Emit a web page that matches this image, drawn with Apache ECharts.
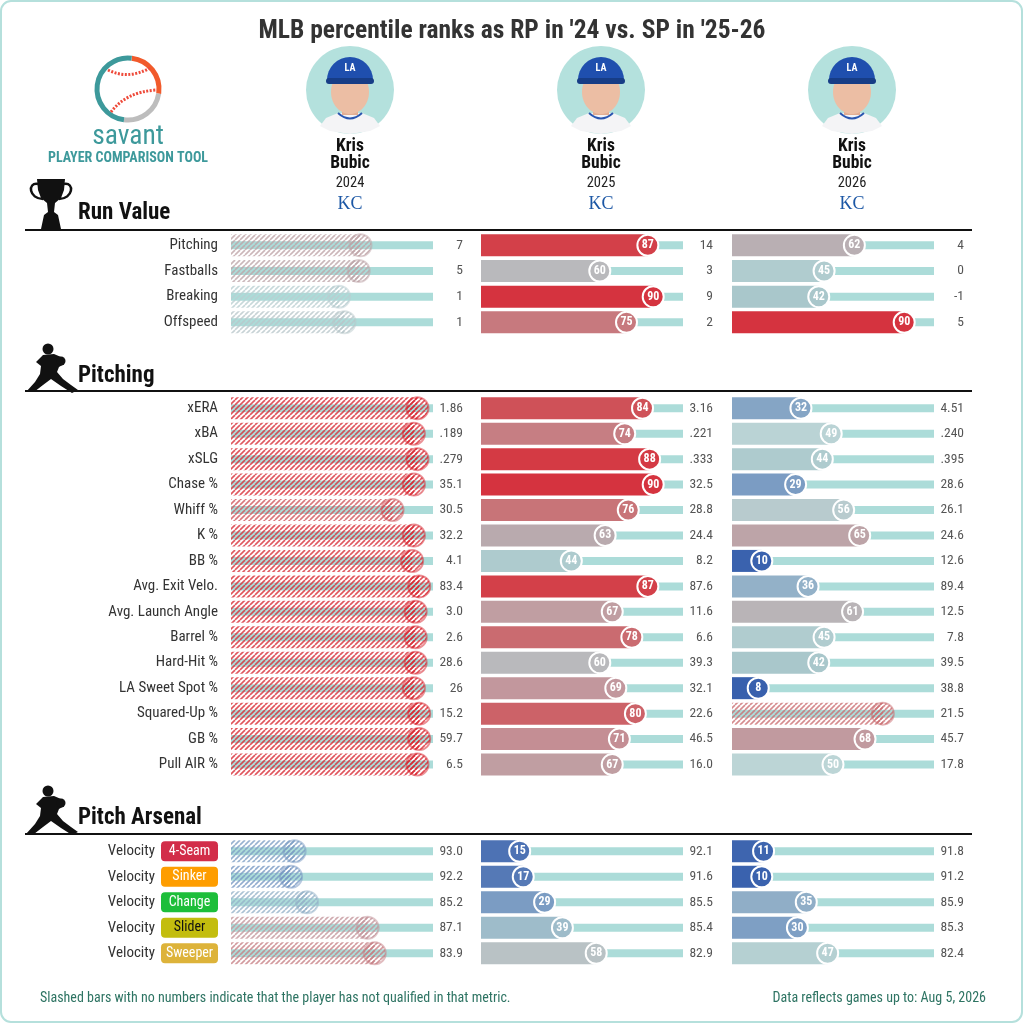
<!DOCTYPE html>
<html>
<head>
<meta charset="utf-8">
<script src="https://cdn.jsdelivr.net/npm/echarts@6/dist/echarts.min.js"></script>
<style>
  html, body { margin: 0; padding: 0; background: #fff; }
  #chart { width: 1024px; height: 1024px; }
</style>
</head>
<body>
<div id="chart"></div>
<script>
// ---- data ----
var seasons = ['2024', '2025', '2026'];
var playerFirst = 'Kris', playerLast = 'Bubic';

var runLabels = ['Pitching', 'Fastballs', 'Breaking', 'Offspeed'];
var runPct24 = [66, 65, 54, 57];
var runQual24 = [0, 0, 0, 0];
var runVal24 = ['7', '5', '1', '1'];
var runPct25 = [87, 60, 90, 75];
var runQual25 = [1, 1, 1, 1];
var runVal25 = ['14', '3', '9', '2'];
var runPct26 = [62, 45, 42, 90];
var runQual26 = [1, 1, 1, 1];
var runVal26 = ['4', '0', '-1', '5'];

var pitchLabels = ['xERA', 'xBA', 'xSLG', 'Chase %', 'Whiff %', 'K %', 'BB %', 'Avg. Exit Velo.',
  'Avg. Launch Angle', 'Barrel %', 'Hard-Hit %', 'LA Sweet Spot %', 'Squared-Up %', 'GB %', 'Pull AIR %'];
var pitchPct24 = [98, 96, 98, 96, 84, 96, 95, 99, 97, 97, 97, 96, 99, 99, 98];
var pitchQual24 = [0, 0, 0, 0, 0, 0, 0, 0, 0, 0, 0, 0, 0, 0, 0];
var pitchVal24 = ['1.86', '.189', '.279', '35.1', '30.5', '32.2', '4.1', '83.4', '3.0', '2.6', '28.6', '26', '15.2', '59.7', '6.5'];
var pitchPct25 = [84, 74, 88, 90, 76, 63, 44, 87, 67, 78, 60, 69, 80, 71, 67];
var pitchQual25 = [1, 1, 1, 1, 1, 1, 1, 1, 1, 1, 1, 1, 1, 1, 1];
var pitchVal25 = ['3.16', '.221', '.333', '32.5', '28.8', '24.4', '8.2', '87.6', '11.6', '6.6', '39.3', '32.1', '22.6', '46.5', '16.0'];
var pitchPct26 = [32, 49, 44, 29, 56, 65, 10, 36, 61, 45, 42, 8, 78, 68, 50];
var pitchQual26 = [1, 1, 1, 1, 1, 1, 1, 1, 1, 1, 1, 1, 0, 1, 1];
var pitchVal26 = ['4.51', '.240', '.395', '28.6', '26.1', '24.6', '12.6', '89.4', '12.5', '7.8', '39.5', '38.8', '21.5', '45.7', '17.8'];

var arsenalPitches = ['4-Seam', 'Sinker', 'Change', 'Slider', 'Sweeper'];
var arsenalColors = ['#d22d49', '#fe9d00', '#1dbe3a', '#c3bd0e', '#ddb33a'];
var arsPct24 = [29, 27, 36, 70, 74];
var arsQual24 = [0, 0, 0, 0, 0];
var arsVal24 = ['93.0', '92.2', '85.2', '87.1', '83.9'];
var arsPct25 = [15, 17, 29, 39, 58];
var arsQual25 = [1, 1, 1, 1, 1];
var arsVal25 = ['92.1', '91.6', '85.5', '85.4', '82.9'];
var arsPct26 = [11, 10, 35, 30, 47];
var arsQual26 = [1, 1, 1, 1, 1];
var arsVal26 = ['91.8', '91.2', '85.9', '85.3', '82.4'];

// ---- style helpers ----
var FONT = "'Roboto Condensed', 'Liberation Sans Narrow', Roboto, sans-serif";
var TRACK = '#acdcd9';
var stops = [[0, '#3257a8'], [10, '#3a62ae'], [17, '#5579b6'], [30, '#7e9fc4'], [36, '#93b1c8'],
  [42, '#a9c7cb'], [50, '#bcd5d6'], [56, '#b8cbce'], [60, '#b9b9bc'], [63, '#b9aaae'],
  [67, '#c09ea2'], [70, '#c3939a'], [76, '#c87478'], [80, '#cc6268'], [84, '#cf5158'],
  [88, '#d43a44'], [90, '#d5333f'], [100, '#d8222b']];

function hex2rgb(h) {
  return [parseInt(h.substr(1, 2), 16), parseInt(h.substr(3, 2), 16), parseInt(h.substr(5, 2), 16)];
}
function pctColor(p, alpha) {
  var a = stops[0], b = stops[stops.length - 1];
  for (var i = 0; i < stops.length - 1; i++) {
    if (p >= stops[i][0] && p <= stops[i + 1][0]) { a = stops[i]; b = stops[i + 1]; break; }
  }
  var t = b[0] === a[0] ? 0 : (p - a[0]) / (b[0] - a[0]);
  var ca = hex2rgb(a[1]), cb = hex2rgb(b[1]);
  var c = ca.map(function (v, k) { return Math.round(v + (cb[k] - v) * t); });
  return 'rgba(' + c[0] + ',' + c[1] + ',' + c[2] + ',' + (alpha == null ? 1 : alpha) + ')';
}
function hatch(color) {
  var cv = document.createElement('canvas');
  cv.width = 5; cv.height = 5;
  var ctx = cv.getContext('2d');
  ctx.strokeStyle = color;
  ctx.lineWidth = 1.6;
  for (var i = -1; i <= 1; i++) {
    ctx.beginPath();
    ctx.moveTo(i * 5, 5);
    ctx.lineTo(i * 5 + 5, 0);
    ctx.stroke();
  }
  return { image: cv, repeat: 'repeat' };
}

// ---- layout ----
var colX = [231, 481, 732], colW = 202;
var sections = [
  { labels: runLabels, top: 232.5, rowH: 25.67,
    cols: [[runPct24, runQual24, runVal24], [runPct25, runQual25, runVal25], [runPct26, runQual26, runVal26]] },
  { labels: pitchLabels, top: 395.5, rowH: 25.45,
    cols: [[pitchPct24, pitchQual24, pitchVal24], [pitchPct25, pitchQual25, pitchVal25], [pitchPct26, pitchQual26, pitchVal26]] },
  { labels: arsenalPitches, top: 838.5, rowH: 25.5, arsenal: true,
    cols: [[arsPct24, arsQual24, arsVal24], [arsPct25, arsQual25, arsVal25], [arsPct26, arsQual26, arsVal26]] }
];

var grids = [], xAxes = [], yAxes = [], series = [];

function makeRender(valTexts) {
  return function (params, api) {
    var cs = params.coordSys;
    var idx = api.value(0), pct = api.value(1), qual = api.value(2);
    var pt = api.coord([pct, idx]);
    var cx = pt[0], cy = pt[1];
    var col = pctColor(pct);
    var kids = [
      { type: 'rect', shape: { x: cs.x, y: cy - 4, width: cs.width, height: 8 }, style: { fill: TRACK } }
    ];
    if (qual) {
      kids.push({ type: 'rect', shape: { x: cs.x, y: cy - 11, width: cx - cs.x, height: 22 }, style: { fill: col } });
      kids.push({ type: 'circle', shape: { cx: cx, cy: cy, r: 10.5 }, style: { fill: col, stroke: '#fff', lineWidth: 2 } });
      kids.push({ type: 'text', x: cx, y: cy, style: { text: String(pct), fill: '#fff', font: 'bold 12px ' + FONT,
        align: 'center', verticalAlign: 'middle' } });
    } else {
      var pat = hatch(pctColor(pct, 0.78));
      kids.push({ type: 'rect', shape: { x: cs.x, y: cy - 11, width: cx - cs.x, height: 22 }, style: { fill: pat } });
      kids.push({ type: 'circle', shape: { cx: cx, cy: cy, r: 11 }, style: { fill: pat, stroke: pctColor(pct, 0.5), lineWidth: 2 } });
    }
    kids.push({ type: 'text', x: cs.x + cs.width + 30, y: cy, style: { text: valTexts[params.dataIndex], fill: '#555',
      font: '13.5px ' + FONT, align: 'right', verticalAlign: 'middle' } });
    return { type: 'group', children: kids };
  };
}

var badgeRich = { v: { fontSize: 15, color: '#333', fontFamily: FONT, padding: [0, 6, 0, 0] } };
arsenalPitches.forEach(function (p, i) {
  badgeRich['b' + i] = { backgroundColor: arsenalColors[i], color: i === 3 ? '#111' : '#fff', fontSize: 14,
    fontFamily: FONT, borderRadius: 4, width: 51, align: 'center', padding: [3, 3, 3, 3], lineHeight: 15 };
});

sections.forEach(function (sec, s) {
  sec.cols.forEach(function (cd, c) {
    var g = grids.length;
    grids.push({ left: colX[c], top: sec.top, width: colW, height: sec.rowH * sec.labels.length });
    xAxes.push({ type: 'value', gridIndex: g, min: -6.74, max: 106.74, show: false });
    yAxes.push({
      type: 'category', gridIndex: g, inverse: true, data: sec.labels,
      axisLine: { show: false }, axisTick: { show: false }, splitLine: { show: false },
      axisLabel: c === 0 ? {
        show: true, margin: 13, color: '#333', fontSize: 15, fontFamily: FONT,
        formatter: sec.arsenal ? function (v, i) { return '{v|Velocity}{b' + i + '|' + v + '}'; } : null,
        rich: sec.arsenal ? badgeRich : undefined
      } : { show: false }
    });
    series.push({
      type: 'custom', xAxisIndex: g, yAxisIndex: g, clip: false,
      renderItem: makeRender(cd[2]),
      encode: { x: 1, y: 0 },
      data: cd[0].map(function (p, i) { return [i, p, cd[1][i]]; })
    });
  });
});

// ---- decorative header graphics ----
function pts(list, dx, dy) {
  var out = [];
  for (var i = 0; i < list.length; i += 2) out.push([list[i] + (dx || 0), list[i + 1] + (dy || 0)]);
  return out;
}
var gfx = [];
gfx.push({ type: 'rect', shape: { x: 1, y: 1, width: 1021, height: 1021, r: 10 }, style: { fill: 'none', stroke: '#b5e0dc', lineWidth: 2 } });
gfx.push({ type: 'text', x: 512, y: 32, style: { text: "MLB percentile ranks as RP in '24 vs. SP in '25-26", fill: '#333',
  font: 'bold 25.5px ' + FONT, align: 'center', verticalAlign: 'middle' } });

// savant logo
var lx = 128, ly = 89, lr = 31;
gfx.push({ type: 'arc', shape: { cx: lx, cy: ly, r: lr, startAngle: -1.45, endAngle: 0.15 }, style: { stroke: '#f15a2b', lineWidth: 5, fill: 'none' } });
gfx.push({ type: 'arc', shape: { cx: lx, cy: ly, r: lr, startAngle: 0.15, endAngle: 1.7 }, style: { stroke: '#bdbdbd', lineWidth: 5, fill: 'none' } });
gfx.push({ type: 'arc', shape: { cx: lx, cy: ly, r: lr, startAngle: 1.7, endAngle: 4.83 }, style: { stroke: '#3d999b', lineWidth: 5, fill: 'none' } });
gfx.push({ type: 'bezierCurve', shape: { x1: 108, y1: 70, cpx1: 128, cpy1: 80, x2: 150, y2: 68 }, style: { stroke: '#ee4a3a', lineWidth: 3, fill: 'none', lineDash: [2, 1.5] } });
gfx.push({ type: 'bezierCurve', shape: { x1: 111, y1: 112, cpx1: 126, cpy1: 92, x2: 156, y2: 90 }, style: { stroke: '#ee4a3a', lineWidth: 3, fill: 'none', lineDash: [2, 1.5] } });
gfx.push({ type: 'text', x: lx, y: 137, style: { text: 'savant', fill: '#3d999b', font: '27.5px ' + FONT, align: 'center', verticalAlign: 'middle' } });
gfx.push({ type: 'text', x: lx, y: 158, style: { text: 'PLAYER COMPARISON TOOL', fill: '#3d999b', font: 'bold 14px ' + FONT, align: 'center', verticalAlign: 'middle' } });

// player heads
var headX = [350, 601, 852];
headX.forEach(function (hx, i) {
  gfx.push({ type: 'circle', shape: { cx: hx, cy: 90, r: 44 }, style: { fill: '#b4e1dd' } });
  gfx.push({ type: 'polygon', shape: { points: pts([-30, 126, -24, 118, -12, 113, 12, 113, 24, 118, 30, 126, 20, 131, 0, 134, -20, 131], hx, 0) }, style: { fill: '#f4f4f6' } });
  gfx.push({ type: 'bezierCurve', shape: { x1: hx - 12, y1: 113, cpx1: hx, cpy1: 124, x2: hx + 12, y2: 113 }, style: { stroke: '#2a56b0', lineWidth: 2, fill: 'none' } });
  gfx.push({ type: 'rect', shape: { x: hx - 8, y: 104, width: 16, height: 11 }, style: { fill: '#e3ae93' } });
  gfx.push({ type: 'ellipse', shape: { cx: hx, cy: 92, rx: 19, ry: 22 }, style: { fill: '#ecbea4' } });
  gfx.push({ type: 'sector', shape: { cx: hx, cy: 80, r0: 0, r: 23, startAngle: Math.PI, endAngle: 2 * Math.PI }, style: { fill: '#1f4fae' } });
  gfx.push({ type: 'rect', shape: { x: hx - 24, y: 78, width: 48, height: 6, r: 3 }, style: { fill: '#173d86' } });
  gfx.push({ type: 'text', x: hx, y: 68, style: { text: 'LA', fill: '#fff', font: 'bold 10px ' + FONT, align: 'center', verticalAlign: 'middle' } });
  gfx.push({ type: 'text', x: hx, y: 147, style: { text: playerFirst, fill: '#111', font: 'bold 17.5px ' + FONT, align: 'center', verticalAlign: 'middle' } });
  gfx.push({ type: 'text', x: hx, y: 164, style: { text: playerLast, fill: '#111', font: 'bold 17.5px ' + FONT, align: 'center', verticalAlign: 'middle' } });
  gfx.push({ type: 'text', x: hx, y: 183, style: { text: seasons[i], fill: '#222', font: '14.5px ' + FONT, align: 'center', verticalAlign: 'middle' } });
  gfx.push({ type: 'text', x: hx, y: 204, style: { text: 'KC', fill: '#1c57a5', font: '18px "Liberation Serif", serif', align: 'center', verticalAlign: 'middle' } });
});

// section headers
var secHead = [['Run Value', 213, 230], ['Pitching', 376, 391], ['Pitch Arsenal', 818, 834]];
secHead.forEach(function (h) {
  gfx.push({ type: 'text', x: 78, y: h[1], style: { text: h[0], fill: '#111', font: 'bold 23px ' + FONT, verticalAlign: 'middle' } });
  gfx.push({ type: 'line', shape: { x1: 25, y1: h[2], x2: 972, y2: h[2] }, style: { stroke: '#111', lineWidth: 2 } });
});

// trophy
gfx.push({ type: 'polygon', shape: { points: pts([37, 179, 65, 179, 64, 190, 61, 198, 55, 203, 54, 212, 58, 215, 61, 229, 41, 229, 44, 215, 48, 212, 47, 203, 41, 198, 38, 190]) }, style: { fill: '#111' } });
gfx.push({ type: 'bezierCurve', shape: { x1: 38, y1: 184, cpx1: 27, cpy1: 182, cpx2: 29, cpy2: 199, x2: 43, y2: 199 }, style: { stroke: '#111', lineWidth: 2.5, fill: 'none' } });
gfx.push({ type: 'bezierCurve', shape: { x1: 64, y1: 184, cpx1: 75, cpy1: 182, cpx2: 73, cpy2: 199, x2: 59, y2: 199 }, style: { stroke: '#111', lineWidth: 2.5, fill: 'none' } });

// pitcher silhouettes
var pitcherPts = [43, 355, 54, 354, 61, 357, 64, 364, 59, 367, 57, 372, 63, 379, 71, 385, 78, 390, 72, 393, 61, 386, 51, 379, 43, 385, 34, 392, 26, 392, 35, 382, 40, 374, 41, 366, 36, 362];
[0, 442].forEach(function (dy) {
  gfx.push({ type: 'circle', shape: { cx: 48, cy: 349 + dy, r: 5.5 }, style: { fill: '#111' } });
  gfx.push({ type: 'polygon', shape: { points: pts(pitcherPts, 0, dy) }, style: { fill: '#111' } });
  gfx.push({ type: 'circle', shape: { cx: 61, cy: 361 + dy, r: 4.5 }, style: { fill: '#111' } });
});

// footer
gfx.push({ type: 'text', x: 40, y: 998, style: { text: 'Slashed bars with no numbers indicate that the player has not qualified in that metric.',
  fill: '#2e7463', font: '14px ' + FONT, verticalAlign: 'middle' } });
gfx.push({ type: 'text', x: 986, y: 998, style: { text: 'Data reflects games up to: Aug 5, 2026',
  fill: '#2e7463', font: '14px ' + FONT, align: 'right', verticalAlign: 'middle' } });

var chart = echarts.init(document.getElementById('chart'));
chart.setOption({
  animation: false,
  backgroundColor: '#fff',
  grid: grids,
  xAxis: xAxes,
  yAxis: yAxes,
  series: series,
  graphic: { elements: gfx }
});
</script>
</body>
</html>
